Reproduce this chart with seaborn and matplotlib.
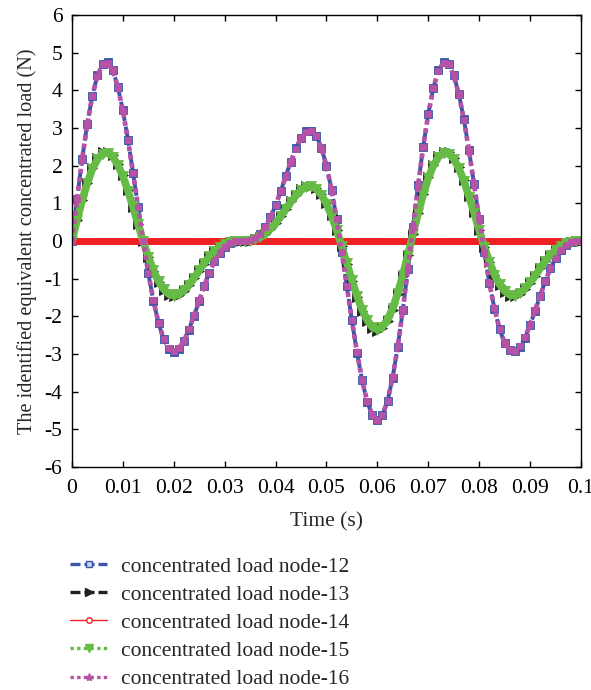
import numpy as np
import pandas as pd
import matplotlib
matplotlib.use("Agg")
import matplotlib.pyplot as plt
from matplotlib.lines import Line2D
import seaborn as sns

# ---------------- data ----------------
time_s = np.linspace(0.0, 0.1, 101)

node12 = [0.00, 1.12, 2.18, 3.11, 3.86, 4.40, 4.70, 4.74, 4.54, 4.10,
          3.47, 2.69, 1.81, 0.89, -0.01, -0.86, -1.59, -2.18, -2.61, -2.86,
          -2.94, -2.86, -2.66, -2.35, -1.98, -1.59, -1.19, -0.84, -0.54, -0.31,
          -0.15, -0.05, -0.01, 0.00, 0.00, 0.02, 0.08, 0.19, 0.37, 0.63,
          0.95, 1.32, 1.72, 2.11, 2.46, 2.74, 2.91, 2.93, 2.79, 2.48,
          2.00, 1.36, 0.58, -0.29, -1.20, -2.11, -2.97, -3.70, -4.27, -4.63,
          -4.76, -4.63, -4.25, -3.63, -2.81, -1.84, -0.75, 0.38, 1.48, 2.50,
          3.38, 4.07, 4.53, 4.74, 4.70, 4.41, 3.91, 3.23, 2.41, 1.51,
          0.59, -0.30, -1.11, -1.80, -2.34, -2.71, -2.90, -2.93, -2.81, -2.57,
          -2.24, -1.85, -1.45, -1.07, -0.73, -0.45, -0.24, -0.11, -0.03, 0.00,
          0.00]

node13 = [0.00, 0.56, 1.09, 1.55, 1.93, 2.20, 2.35, 2.37, 2.27, 2.05,
          1.74, 1.35, 0.91, 0.45, -0.01, -0.43, -0.79, -1.09, -1.30, -1.43,
          -1.47, -1.43, -1.33, -1.18, -0.99, -0.79, -0.60, -0.42, -0.27, -0.15,
          -0.07, -0.03, -0.01, 0.00, 0.00, 0.01, 0.04, 0.10, 0.19, 0.32,
          0.48, 0.66, 0.86, 1.06, 1.23, 1.37, 1.45, 1.47, 1.40, 1.24,
          1.00, 0.68, 0.29, -0.14, -0.60, -1.06, -1.48, -1.85, -2.13, -2.32,
          -2.38, -2.31, -2.12, -1.82, -1.41, -0.92, -0.38, 0.19, 0.74, 1.25,
          1.69, 2.03, 2.26, 2.37, 2.35, 2.21, 1.96, 1.61, 1.20, 0.76,
          0.29, -0.15, -0.56, -0.90, -1.17, -1.35, -1.45, -1.47, -1.40, -1.28,
          -1.12, -0.93, -0.73, -0.54, -0.37, -0.23, -0.12, -0.05, -0.02, 0.00,
          0.00]

node14 = [0.0] * 101

node15 = [0.00, 0.56, 1.08, 1.53, 1.91, 2.17, 2.32, 2.34, 2.24, 2.02,
          1.72, 1.33, 0.90, 0.44, -0.01, -0.42, -0.78, -1.07, -1.28, -1.41,
          -1.45, -1.41, -1.31, -1.16, -0.98, -0.78, -0.59, -0.41, -0.27, -0.15,
          -0.07, -0.03, -0.01, 0.00, 0.00, 0.01, 0.04, 0.10, 0.19, 0.32,
          0.47, 0.65, 0.85, 1.04, 1.21, 1.35, 1.43, 1.45, 1.38, 1.22,
          0.99, 0.67, 0.29, -0.14, -0.59, -1.04, -1.46, -1.82, -2.10, -2.29,
          -2.35, -2.28, -2.09, -1.79, -1.39, -0.91, -0.37, 0.19, 0.73, 1.23,
          1.67, 2.00, 2.23, 2.34, 2.32, 2.18, 1.93, 1.59, 1.18, 0.75,
          0.29, -0.15, -0.55, -0.89, -1.15, -1.33, -1.43, -1.45, -1.38, -1.26,
          -1.10, -0.92, -0.72, -0.53, -0.36, -0.23, -0.12, -0.05, -0.02, 0.00,
          0.00]

node16 = [0.00, 1.11, 2.17, 3.10, 3.85, 4.39, 4.69, 4.73, 4.53, 4.09,
          3.46, 2.68, 1.81, 0.89, -0.01, -0.85, -1.58, -2.17, -2.60, -2.85,
          -2.93, -2.85, -2.65, -2.34, -1.97, -1.58, -1.19, -0.84, -0.54, -0.31,
          -0.15, -0.05, -0.01, 0.00, 0.00, 0.02, 0.08, 0.19, 0.37, 0.63,
          0.95, 1.32, 1.71, 2.10, 2.45, 2.73, 2.90, 2.92, 2.78, 2.47,
          1.99, 1.35, 0.58, -0.29, -1.20, -2.10, -2.96, -3.69, -4.26, -4.62,
          -4.75, -4.62, -4.24, -3.62, -2.80, -1.83, -0.75, 0.38, 1.47, 2.49,
          3.37, 4.06, 4.52, 4.73, 4.69, 4.40, 3.90, 3.22, 2.40, 1.50,
          0.59, -0.30, -1.11, -1.79, -2.33, -2.70, -2.89, -2.92, -2.80, -2.56,
          -2.23, -1.84, -1.45, -1.07, -0.73, -0.45, -0.24, -0.11, -0.03, 0.00,
          0.00]

labels = ["concentrated load node-12", "concentrated load node-13",
          "concentrated load node-14", "concentrated load node-15",
          "concentrated load node-16"]
x_ticks = [0, 0.01, 0.02, 0.03, 0.04, 0.05, 0.06, 0.07, 0.08, 0.09, 0.1]
x_tick_labels = ["0", "0.01", "0.02", "0.03", "0.04", "0.05", "0.06",
                 "0.07", "0.08", "0.09", "0.1"]
y_ticks = [-6, -5, -4, -3, -2, -1, 0, 1, 2, 3, 4, 5, 6]

# ---------------- style ----------------
sns.set_style("ticks")
plt.rcParams["font.family"] = ["Liberation Serif", "DejaVu Serif"]
plt.rcParams["axes.unicode_minus"] = False
FS = 15.5

C_BLUE = "#3b56a6"
C_BLACK = "#231f20"
C_RED = "#ee2024"
C_GREEN = "#66bb46"
C_MAG = "#b852a6"

series = [
    dict(y=node12, color=C_BLUE, ls=(0, (5, 1.5)), lw=2.8, marker="s", ms=5.5,
         mfc=C_BLUE, mec=C_BLUE),
    dict(y=node13, color=C_BLACK, ls=(0, (5, 1.5)), lw=3.0, marker=">", ms=7.0,
         mfc=C_BLACK, mec=C_BLACK),
    dict(y=node14, color=C_RED, ls="-", lw=5.0, marker="o", ms=4.0,
         mfc=C_RED, mec=C_RED),
    dict(y=node15, color=C_GREEN, ls="-", lw=5.5, marker="v", ms=7.0,
         mfc=C_GREEN, mec=C_GREEN),
    dict(y=node16, color=C_MAG, ls=(0, (1, 0.8)), lw=3.4, marker="s", ms=4.6,
         mfc=C_MAG, mec=C_MAG),
]

fig = plt.figure(figsize=(5.91, 6.90), dpi=100)
ax = fig.add_axes([0.1218, 0.3232, 0.8612, 0.6551])

for s in series:
    df = pd.DataFrame({"t": time_s, "v": s["y"]})
    sns.lineplot(data=df, x="t", y="v", ax=ax, color=s["color"],
                 linestyle=s["ls"], linewidth=s["lw"], marker=s["marker"],
                 markersize=s["ms"], markerfacecolor=s["mfc"],
                 markeredgecolor=s["mec"], markeredgewidth=0.6,
                 legend=False, estimator=None, sort=False)

ax.set_xlim(0, 0.1)
ax.set_ylim(-6, 6)
ax.set_xticks(x_ticks)
ax.set_xticklabels(x_tick_labels, fontsize=FS)
ax.set_yticks(y_ticks)
ax.set_yticklabels([str(v) for v in y_ticks], fontsize=FS)
ax.tick_params(axis="x", pad=9)
ax.tick_params(axis="y", pad=7)
ax.tick_params(direction="in", length=4, width=1, top=True, right=True,
               colors="black")
for sp in ax.spines.values():
    sp.set_visible(True)
    sp.set_linewidth(1.0)
    sp.set_color("black")
ax.set_xlabel("Time (s)", fontsize=FS, labelpad=10)
ax.set_ylabel("The identified equivalent concentrated load (N)", fontsize=14.6,
              labelpad=5)

handles = [
    Line2D([], [], color=C_BLUE, ls=(0, (3, 1.2)), lw=2.4, marker="s", ms=4,
           mfc="#c9d3ef", mec=C_BLUE),
    Line2D([], [], color=C_BLACK, ls=(0, (3, 1.2)), lw=2.4, marker=">", ms=6,
           mfc=C_BLACK, mec=C_BLACK),
    Line2D([], [], color=C_RED, ls="-", lw=1.0, marker="o", ms=4,
           mfc="white", mec=C_RED),
    Line2D([], [], color=C_GREEN, ls=(0, (1, 1)), lw=2.4, marker="v", ms=6,
           mfc=C_GREEN, mec=C_GREEN),
    Line2D([], [], color=C_MAG, ls=(0, (1, 1)), lw=2.4, marker="*", ms=6,
           mfc=C_MAG, mec=C_MAG),
]
fig.legend(handles, labels, loc="upper left", bbox_to_anchor=(0.118, 0.193),
           frameon=False, fontsize=FS, handlelength=1.75, handletextpad=0.65,
           labelspacing=0.37, borderpad=0, borderaxespad=0)

fig.savefig("out.png", dpi=100, facecolor="white")
